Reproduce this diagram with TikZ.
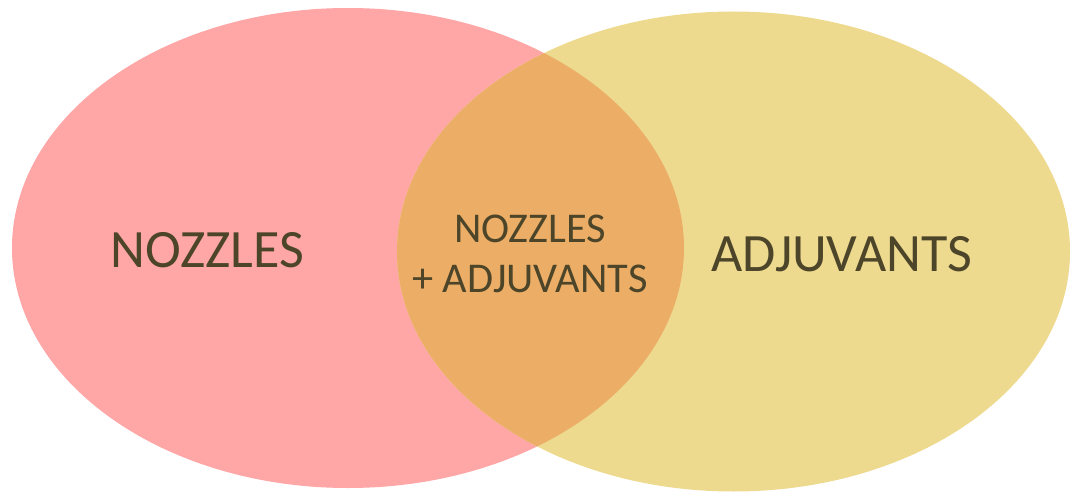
\documentclass[tikz,border=0pt]{standalone}
\usepackage{fontspec}
\setmainfont{Carlito}
\definecolor{setA}{RGB}{255,166,166}
\definecolor{setB}{RGB}{237,218,143}
\definecolor{both}{RGB}{236,174,102}
\definecolor{ink}{RGB}{77,69,41}
\tikzset{
  label/.style={text=ink, font=\fontsize{54}{60}\selectfont, inner sep=0pt},
  midlabel/.style={text=ink, font=\fontsize{42.4}{50}\selectfont, inner sep=0pt, align=center}
}
\begin{document}
\begin{tikzpicture}[x=1pt,y=-1pt]
  \useasboundingbox (0,0) rectangle (1076,492);
  % the two sets
  \fill[setA] (348,248) ellipse [x radius=336, y radius=240];
  \fill[setB] (733.5,251.5) ellipse [x radius=336.5, y radius=240];
  % their intersection
  \begin{scope}
    \clip (348,248) ellipse [x radius=336, y radius=240];
    \fill[both] (733.5,251.5) ellipse [x radius=336.5, y radius=240];
  \end{scope}
  \node[label] (nozzles) at (207.5,250.5) {NOZZLES};
  \node[label] (adjuvants) at (841.5,254.5) {ADJUVANTS};
  \node[midlabel] (combined) at (530,254) {NOZZLES\\+ ADJUVANTS};
\end{tikzpicture}
\end{document}
